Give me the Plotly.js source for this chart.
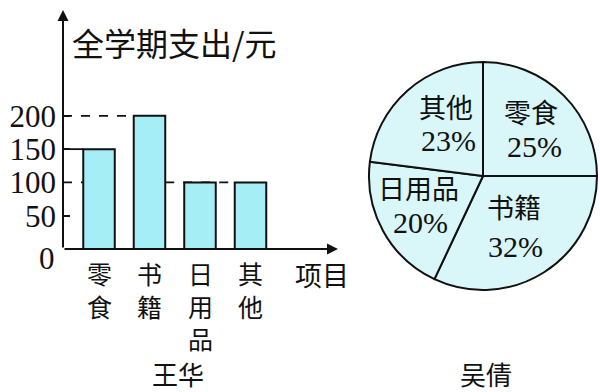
<!DOCTYPE html>
<html>
<head>
<meta charset="utf-8">
<script src="https://cdn.plot.ly/plotly-3.0.1.min.js"></script>
<style>html,body{margin:0;padding:0;background:#fff;}#chart{width:600px;height:392px;}</style>
</head>
<body>
<div id="chart"></div>
<script>
// ---- data ----
const categories = ["零食", "书籍", "日用品", "其他"];
const wangHuaSpend = [150, 200, 100, 100];
const yTickVals = [50, 100, 150, 200];
const yTickText = ["50", "100", "150", "200"];
const wuQianPercent = [25, 32, 20, 23];
const yAxisTitle = "全学期支出/元";
const xAxisTitle = "项目";
const leftCaption = "王华";
const rightCaption = "吴倩";

// ---- style ----
const FONT = "Liberation Serif, Noto Sans CJK SC, serif";
const CJK = "Noto Sans CJK SC, sans-serif";
const barW = 0.624;
const xMin = -0.713, xMax = 4.733, yMax = 359;
const idx = categories.map((_, i) => i);
// pixel centres of the pie slice texts [label, percent] (layout only)
const pieTextPos = [[[531, 111], [534, 146]], [[514, 206], [515, 247]], [[418, 187], [420, 222]], [[446, 106], [448, 140]]];

const bar = {
  type: "bar", x: idx, y: wangHuaSpend, width: barW,
  marker: {color: "#a6eef5", line: {color: "#111", width: 2}},
  hoverinfo: "skip", showlegend: false, xaxis: "x", yaxis: "y"
};

const pie = {
  type: "pie", labels: categories, values: wuQianPercent,
  sort: false, direction: "clockwise", rotation: 0,
  domain: {x: [369/600, 597/600], y: [1 - 290/392, 1 - 62/392]},
  marker: {colors: categories.map(() => "#d9f6f8"), line: {color: "#111", width: 2}},
  textinfo: "none", hoverinfo: "skip", showlegend: false
};

const annotations = [];
function txt(px, py, text, family, size, extra) {
  annotations.push(Object.assign({xref: "paper", yref: "paper", x: px/600, y: 1 - py/392,
    xanchor: "center", yanchor: "middle", text: text, showarrow: false,
    font: {family: family, size: size, color: "#111"}}, extra || {}));
}
// axes arrows
annotations.push({xref: "x", yref: "y", axref: "x", ayref: "y", x: xMin, y: yMax, ax: xMin, ay: 0,
  text: "", showarrow: true, arrowhead: 2, arrowsize: 1.1, arrowwidth: 2, arrowcolor: "#111"});
annotations.push({xref: "x", yref: "y", axref: "x", ayref: "y", x: xMax, y: 0, ax: xMin, ay: 0,
  text: "", showarrow: true, arrowhead: 2, arrowsize: 1.1, arrowwidth: 2, arrowcolor: "#111"});
// zero label
annotations.push({xref: "x", yref: "y", x: xMin, y: 0, xanchor: "right", yanchor: "middle",
  xshift: -6, yshift: -9, text: "0", showarrow: false, font: {family: FONT, size: 31, color: "#111"}});
// vertical category labels (one character per line)
categories.forEach((c, i) => {
  annotations.push({xref: "x", yref: "y", x: i, y: 0, xanchor: "center", yanchor: "top",
    yshift: -4, text: Array.from(c).join("<br>"), showarrow: false,
    font: {family: CJK, size: 25, color: "#111"}});
});
// axis titles
annotations.push({xref: "x", yref: "y", x: 4.42, y: 0, xanchor: "center", yanchor: "top",
  yshift: -4, text: xAxisTitle, showarrow: false, font: {family: CJK, size: 27, color: "#111"}});
txt(70, 42, yAxisTitle, CJK, 32, {xanchor: "left"});
// captions
txt(178, 373, leftCaption, CJK, 26);
txt(486, 373, rightCaption, CJK, 26);
// pie texts
categories.forEach((c, i) => {
  txt(pieTextPos[i][0][0], pieTextPos[i][0][1], c, CJK, 27);
  txt(pieTextPos[i][1][0], pieTextPos[i][1][1], wuQianPercent[i] + "%", FONT, 30);
});

const dash = {color: "#111", width: 1.8, dash: "dash"};
const shapes = [
  {type: "line", xref: "x", yref: "y", layer: "below", x0: xMin, x1: 1 - barW/2, y0: 200, y1: 200, line: dash},
  {type: "line", xref: "x", yref: "y", layer: "below", x0: xMin, x1: 0 - barW/2, y0: 100, y1: 100, line: dash},
  {type: "line", xref: "x", yref: "y", layer: "below", x0: 1 + barW/2, x1: 3 - barW/2, y0: 100, y1: 100, line: dash},
  {type: "line", xref: "x", yref: "y", layer: "below", x0: xMin, x1: 0 - barW/2, y0: 150, y1: 150, line: {color: "#111", width: 1.8}}
];

const layout = {
  width: 600, height: 392, margin: {l: 0, r: 0, t: 0, b: 0},
  paper_bgcolor: "#fff", plot_bgcolor: "rgba(0,0,0,0)",
  xaxis: {domain: [63/600, 338/600], range: [xMin, xMax], showgrid: false, zeroline: false,
    showline: false, showticklabels: false, ticks: "", fixedrange: true},
  yaxis: {domain: [1 - 249/392, 1 - 10/392], range: [0, yMax], showgrid: false, zeroline: false,
    showline: false, tickvals: yTickVals, ticktext: yTickText, ticks: "inside", ticklen: 7,
    tickwidth: 1.8, tickcolor: "#111", ticklabelstandoff: 6,
    tickfont: {family: FONT, size: 31, color: "#111"}, fixedrange: true},
  annotations: annotations, shapes: shapes, bargap: 0
};

Plotly.newPlot("chart", [bar, pie], layout, {displayModeBar: false, staticPlot: true});
</script>
</body>
</html>
